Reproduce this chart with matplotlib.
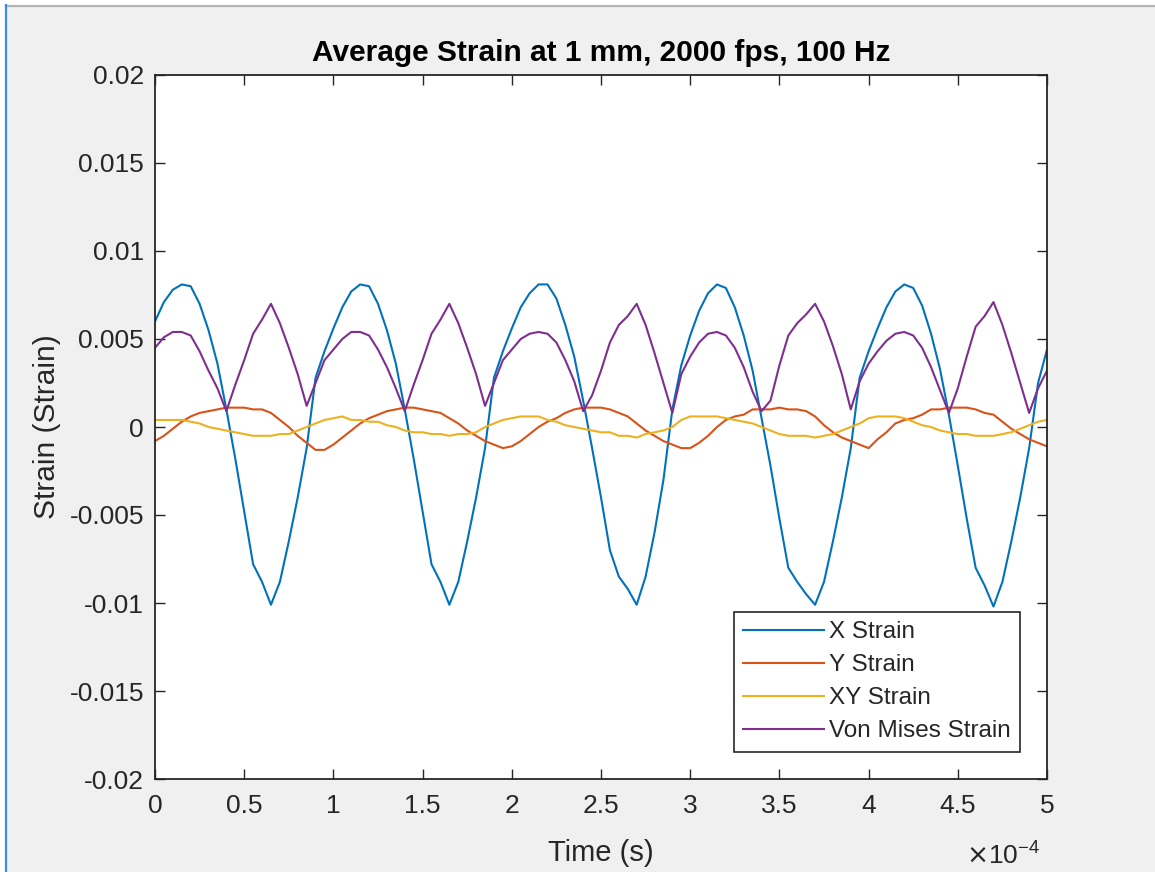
import matplotlib
matplotlib.use("Agg")
import matplotlib.pyplot as plt
from matplotlib.ticker import FuncFormatter, FixedLocator
from matplotlib.patches import Rectangle
from matplotlib.lines import Line2D

plt.rcParams['font.family'] = ['Liberation Sans', 'DejaVu Sans']

# time in units of 1e-4 s (sample grid)
time_e4 = [round(i * 0.05, 2) for i in range(101)]

x_strain = [
    0.0060, 0.0071, 0.0078, 0.0081, 0.0080, 0.0070, 0.0055, 0.0036, 0.0010, -0.0018,
    -0.0048, -0.0078, -0.0088, -0.0101, -0.0088, -0.0065, -0.0040, -0.0012, 0.0028, 0.0043,
    0.0056, 0.0068, 0.0077, 0.0081, 0.0080, 0.0070, 0.0055, 0.0036, 0.0010, -0.0018,
    -0.0048, -0.0078, -0.0088, -0.0101, -0.0088, -0.0065, -0.0040, -0.0012, 0.0028, 0.0043,
    0.0056, 0.0068, 0.0076, 0.0081, 0.0081, 0.0073, 0.0058, 0.0040, 0.0015, -0.0012,
    -0.0040, -0.0070, -0.0085, -0.0092, -0.0101, -0.0085, -0.0060, -0.0030, 0.0010, 0.0035,
    0.0052, 0.0066, 0.0076, 0.0081, 0.0079, 0.0068, 0.0052, 0.0032, 0.0005, -0.0022,
    -0.0052, -0.0080, -0.0088, -0.0095, -0.0101, -0.0088, -0.0065, -0.0040, -0.0012, 0.0028,
    0.0043, 0.0056, 0.0068, 0.0077, 0.0081, 0.0079, 0.0069, 0.0053, 0.0033, 0.0007,
    -0.0022, -0.0052, -0.0080, -0.0090, -0.0102, -0.0088, -0.0065, -0.0040, -0.0012, 0.0025,
    0.0044,
]

y_strain = [
    -0.0008, -0.0005, -0.0001, 0.0003, 0.0006, 0.0008, 0.0009, 0.0010, 0.0011, 0.0011,
    0.0011, 0.0010, 0.0010, 0.0008, 0.0004, 0.0000, -0.0005, -0.0009, -0.0013, -0.0013,
    -0.0010, -0.0006, -0.0002, 0.0002, 0.0005, 0.0007, 0.0009, 0.0010, 0.0011, 0.0011,
    0.0010, 0.0009, 0.0008, 0.0005, 0.0002, -0.0002, -0.0005, -0.0008, -0.0010, -0.0012,
    -0.0011, -0.0008, -0.0004, 0.0000, 0.0003, 0.0005, 0.0008, 0.0010, 0.0011, 0.0011,
    0.0011, 0.0010, 0.0008, 0.0006, 0.0002, -0.0002, -0.0005, -0.0008, -0.0010, -0.0012,
    -0.0012, -0.0009, -0.0005, 0.0000, 0.0004, 0.0006, 0.0007, 0.0010, 0.0010, 0.0010,
    0.0011, 0.0010, 0.0010, 0.0009, 0.0006, 0.0001, -0.0003, -0.0006, -0.0008, -0.0010,
    -0.0012, -0.0007, -0.0003, 0.0002, 0.0004, 0.0005, 0.0007, 0.0010, 0.0010, 0.0011,
    0.0011, 0.0011, 0.0010, 0.0008, 0.0007, 0.0003, -0.0001, -0.0004, -0.0007, -0.0009,
    -0.0011,
]

xy_strain = [
    0.0004, 0.0004, 0.0004, 0.0004, 0.0003, 0.0002, 0.0000, -0.0001, -0.0002, -0.0003,
    -0.0004, -0.0005, -0.0005, -0.0005, -0.0004, -0.0004, -0.0002, 0.0000, 0.0002, 0.0004,
    0.0005, 0.0006, 0.0004, 0.0004, 0.0003, 0.0003, 0.0001, 0.0000, -0.0002, -0.0003,
    -0.0003, -0.0004, -0.0004, -0.0005, -0.0004, -0.0004, -0.0003, 0.0000, 0.0002, 0.0004,
    0.0005, 0.0006, 0.0006, 0.0006, 0.0004, 0.0003, 0.0001, 0.0000, -0.0001, -0.0002,
    -0.0003, -0.0003, -0.0005, -0.0005, -0.0006, -0.0004, -0.0003, -0.0002, 0.0000, 0.0004,
    0.0006, 0.0006, 0.0006, 0.0006, 0.0005, 0.0004, 0.0003, 0.0002, 0.0000, -0.0002,
    -0.0004, -0.0005, -0.0005, -0.0005, -0.0006, -0.0005, -0.0004, -0.0002, 0.0000, 0.0002,
    0.0005, 0.0006, 0.0006, 0.0006, 0.0005, 0.0003, 0.0001, 0.0000, -0.0002, -0.0003,
    -0.0004, -0.0004, -0.0005, -0.0005, -0.0005, -0.0004, -0.0003, -0.0001, 0.0001, 0.0003,
    0.0004,
]

vm_strain = [
    0.0045, 0.0051, 0.0054, 0.0054, 0.0052, 0.0043, 0.0032, 0.0022, 0.0009, 0.0024,
    0.0038, 0.0053, 0.0061, 0.0070, 0.0059, 0.0045, 0.0030, 0.0012, 0.0025, 0.0038,
    0.0044, 0.0050, 0.0054, 0.0054, 0.0052, 0.0044, 0.0034, 0.0022, 0.0009, 0.0024,
    0.0038, 0.0053, 0.0061, 0.0070, 0.0059, 0.0045, 0.0030, 0.0012, 0.0025, 0.0038,
    0.0044, 0.0050, 0.0053, 0.0054, 0.0053, 0.0048, 0.0038, 0.0026, 0.0009, 0.0018,
    0.0032, 0.0048, 0.0058, 0.0063, 0.0070, 0.0058, 0.0042, 0.0025, 0.0008, 0.0030,
    0.0040, 0.0048, 0.0053, 0.0054, 0.0052, 0.0045, 0.0034, 0.0020, 0.0009, 0.0015,
    0.0035, 0.0052, 0.0059, 0.0064, 0.0070, 0.0060, 0.0046, 0.0030, 0.0010, 0.0026,
    0.0036, 0.0043, 0.0049, 0.0053, 0.0054, 0.0052, 0.0045, 0.0034, 0.0021, 0.0008,
    0.0022, 0.0040, 0.0057, 0.0063, 0.0071, 0.0058, 0.0042, 0.0025, 0.0008, 0.0022,
    0.0032,
]

series_names = ["X Strain", "Y Strain", "XY Strain", "Von Mises Strain"]
x_ticks_e4 = [0, 0.5, 1, 1.5, 2, 2.5, 3, 3.5, 4, 4.5, 5]
y_ticks = [-0.02, -0.015, -0.01, -0.005, 0, 0.005, 0.01, 0.015, 0.02]
y_tick_labels = ["-0.02", "-0.015", "-0.01", "-0.005", "0", "0.005", "0.01", "0.015", "0.02"]

colors = ["#0072BD", "#D95319", "#EDB120", "#7E2F8E"]
text_c = "#262626"

W, H = 1155, 872
fig = plt.figure(figsize=(W / 100, H / 100), dpi=100)
fig.patch.set_facecolor("white")

# window background + borders
fig.add_artist(Rectangle((7 / W, 0), 1 - 7 / W, 1 - 7 / H, transform=fig.transFigure,
                         facecolor="#f0f0f0", edgecolor="none", zorder=-10))
fig.add_artist(Line2D([6 / W, 1], [1 - 6 / H, 1 - 6 / H], transform=fig.transFigure,
                      color="#b4b4b4", lw=1.6))
fig.add_artist(Line2D([6 / W, 6 / W], [0, 1 - 5 / H], transform=fig.transFigure,
                      color="#3a8ee6", lw=1.6))

ax = fig.add_axes([155 / W, 1 - 779 / H, (1047 - 155) / W, (779 - 75) / H])
ax.set_facecolor("white")

t_sec = [v * 1e-4 for v in time_e4]
for vals, name, c in zip([x_strain, y_strain, xy_strain, vm_strain], series_names, colors):
    ax.plot(t_sec, vals, color=c, lw=1.5, label=name)

ax.set_xlim(0, 5e-4)
ax.set_ylim(-0.02, 0.02)
ax.xaxis.set_major_locator(FixedLocator([v * 1e-4 for v in x_ticks_e4]))
ax.xaxis.set_major_formatter(FuncFormatter(lambda v, p: f"{v * 1e4:g}"))
ax.set_yticks(y_ticks)
ax.set_yticklabels(y_tick_labels)

for s in ax.spines.values():
    s.set_color(text_c)
    s.set_linewidth(1.3)
ax.tick_params(direction="in", length=7, width=1.0, color=text_c, labelcolor=text_c,
               labelsize=19, top=True, right=True)
ax.tick_params(axis="y", pad=8)
ax.tick_params(axis="x", pad=11)

ax.set_title("Average Strain at 1 mm, 2000 fps, 100 Hz", fontsize=21.5, fontweight="bold",
             color="black", pad=10)
ax.set_xlabel("Time (s)", fontsize=21, color=text_c, labelpad=15)
ax.set_ylabel("Strain (Strain)", fontsize=21.5, color=text_c, labelpad=6)

fig.text(1040 / W, 1 - 856 / H, r"$\times\mathregular{10^{-4}}$", fontsize=19, color=text_c,
         ha="right", va="center")

leg = ax.legend(loc="lower right", bbox_to_anchor=((1020 - 155) / 892, (779 - 752) / 704),
                fontsize=17.5, frameon=True, fancybox=False, framealpha=1,
                edgecolor=text_c, handlelength=3.3, handletextpad=0.2,
                borderpad=0.4, labelspacing=0.45, borderaxespad=0)
leg.get_frame().set_linewidth(1.2)
for txt in leg.get_texts():
    txt.set_color(text_c)

fig.savefig("out.png", dpi=100, facecolor=fig.get_facecolor())
